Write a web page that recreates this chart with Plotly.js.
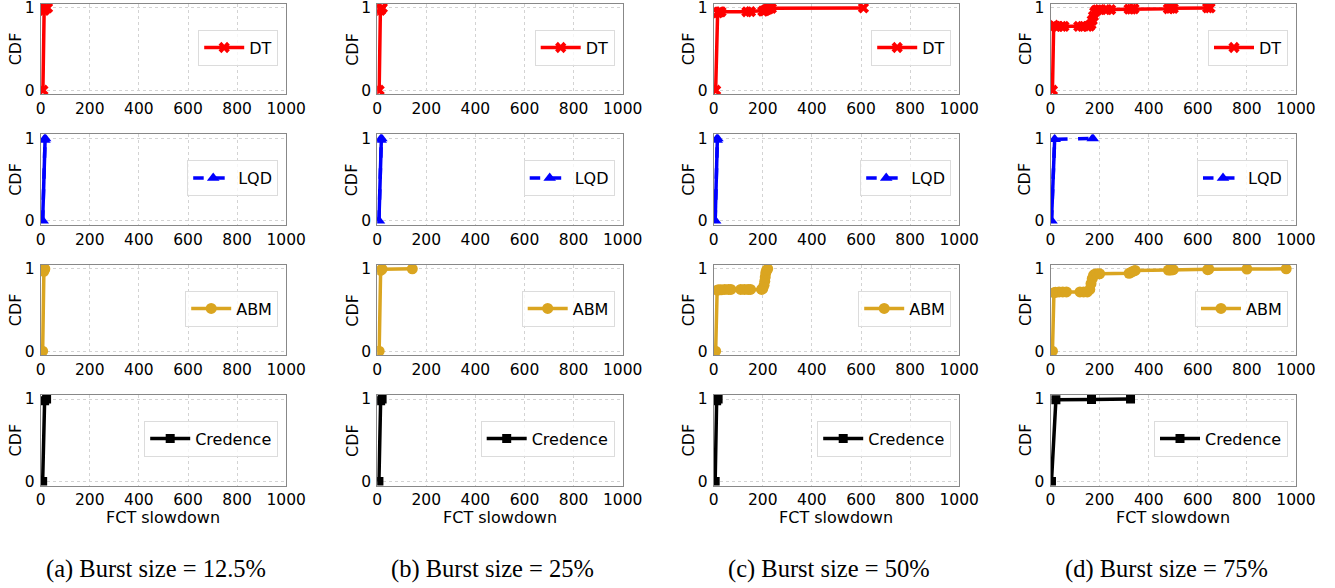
<!DOCTYPE html>
<html>
<head>
<meta charset="utf-8">
<script src="https://cdn.plot.ly/plotly-3.0.1.min.js"></script>
<style>html,body{margin:0;padding:0;background:#fff;}#chart{width:1335px;height:588px;}</style>
</head>
<body>
<div id="chart"></div>
<script>
// ---------- data ----------
const captions = ['(a) Burst size = 12.5%', '(b) Burst size = 25%', '(c) Burst size = 50%', '(d) Burst size = 75%'];
const schemes = ['DT', 'LQD', 'ABM', 'Credence'];
const xTicks = [0, 200, 400, 600, 800, 1000];
const yTicks = [0, 1];
const xLabel = 'FCT slowdown';
const yLabel = 'CDF';

// DT
const dtX_a = [9, 14, 18, 22, 28];
const dtY_a = [0, 0.97, 0.99, 1.0, 1.0];
const dtX_b = [8, 13, 17, 21];
const dtY_b = [0, 0.97, 0.99, 1.0];
const dtX_c = [8, 16, 20, 25, 30, 135, 150, 200, 205, 210, 215, 220, 225, 235, 610];
const dtY_c = [0, 0.94, 0.95, 0.952, 0.953, 0.953, 0.955, 0.96, 0.965, 0.97, 0.98, 0.985, 0.99, 0.995, 1.0];
const dtX_d = [8, 13, 20, 30, 45, 55, 115, 130, 150, 160, 165, 170, 175, 180, 185, 190, 200, 230, 245, 320, 330, 340, 480, 490, 500, 640, 650];
const dtY_d = [0, 0.79, 0.775, 0.775, 0.775, 0.775, 0.775, 0.775, 0.775, 0.78, 0.8, 0.85, 0.9, 0.95, 0.97, 0.975, 0.98, 0.98, 0.98, 0.985, 0.985, 0.99, 0.99, 0.995, 0.995, 1.0, 1.0];

// LQD
const lqdX_a = [8, 15, 18];
const lqdY_a = [0, 0.98, 1.0];
const lqdX_b = [7, 14, 17];
const lqdY_b = [0, 0.98, 1.0];
const lqdX_c = [6, 12, 15];
const lqdY_c = [0, 0.98, 1.0];
const lqdX_d = [4, 17, 172];
const lqdY_d = [0, 0.99, 1.0];

// ABM
const abmX_a = [8, 13, 17];
const abmY_a = [0, 0.97, 1.0];
const abmX_b = [8, 14, 20, 143];
const abmY_b = [0, 0.98, 0.995, 1.0];
const abmX_c = [8, 14, 20, 30, 45, 60, 70, 110, 125, 140, 150, 195, 200, 205, 208, 210, 212, 215, 220];
const abmY_c = [0, 0.74, 0.745, 0.745, 0.75, 0.75, 0.75, 0.75, 0.75, 0.75, 0.75, 0.75, 0.76, 0.8, 0.85, 0.9, 0.95, 0.98, 1.0];
const abmX_d = [8, 14, 20, 35, 50, 65, 120, 135, 150, 160, 165, 170, 175, 180, 190, 200, 320, 330, 340, 345, 480, 490, 500, 640, 645, 800, 960];
const abmY_d = [0, 0.71, 0.715, 0.72, 0.72, 0.72, 0.72, 0.72, 0.72, 0.75, 0.82, 0.88, 0.92, 0.935, 0.94, 0.94, 0.945, 0.96, 0.975, 0.98, 0.985, 0.985, 0.99, 0.99, 0.995, 0.997, 1.0];

// Credence
const crX_a = [8, 16, 24];
const crY_a = [0, 0.98, 1.0];
const crX_b = [7, 14, 20];
const crY_b = [0, 0.98, 1.0];
const crX_c = [6, 12, 18];
const crY_c = [0, 0.98, 1.0];
const crX_d = [4, 22, 167, 326];
const crY_d = [0, 0.99, 0.995, 1.0];

const seriesX = {DT: [dtX_a, dtX_b, dtX_c, dtX_d], LQD: [lqdX_a, lqdX_b, lqdX_c, lqdX_d], ABM: [abmX_a, abmX_b, abmX_c, abmX_d], Credence: [crX_a, crX_b, crX_c, crX_d]};
const seriesY = {DT: [dtY_a, dtY_b, dtY_c, dtY_d], LQD: [lqdY_a, lqdY_b, lqdY_c, lqdY_d], ABM: [abmY_a, abmY_b, abmY_c, abmY_d], Credence: [crY_a, crY_b, crY_c, crY_d]};

// ---------- styles ----------
const styles = {
  DT: {color: '#ff0000', symbol: 'x', size: 10, dash: 'solid'},
  LQD: {color: '#0000ff', symbol: 'triangle-up', size: 11, dash: 'dash'},
  ABM: {color: '#DAA520', symbol: 'circle', size: 11, dash: 'solid'},
  Credence: {color: '#000000', symbol: 'square', size: 9, dash: 'solid'}
};

const W = 1335, H = 588;
const colLeft = [40.7, 377.2, 713.7, 1050.5];
const colW = 245.5;
const rowTop = [3.8, 134.3, 264.7, 394.9];
const rowH = 90.6;
const font = 'DejaVu Sans, Verdana, sans-serif';

const traces = [];
const layout = {
  width: W, height: H,
  margin: {l: 0, r: 0, t: 0, b: 0},
  paper_bgcolor: '#ffffff', plot_bgcolor: '#ffffff',
  font: {family: font, size: 15, color: '#000'},
  annotations: []
};

let idx = 0;
schemes.forEach((s, r) => {
  captions.forEach((cap, c) => {
    idx++;
    const sfx = idx === 1 ? '' : String(idx);
    const st = styles[s];
    const xs = seriesX[s][c], ys = seriesY[s][c];
    if (st.dash !== 'solid') {
      // the steep rising part looks solid because the points are dense
      const k = ys.findIndex(v => v >= 0.99);
      traces.push({
        type: 'scatter', mode: 'lines', showlegend: false, hoverinfo: 'skip',
        x: xs.slice(0, k + 1), y: ys.slice(0, k + 1),
        xaxis: 'x' + sfx, yaxis: 'y' + sfx,
        line: {color: st.color, width: 3.5}
      });
    }
    traces.push({
      type: 'scatter', mode: 'lines+markers', name: s,
      x: xs, y: ys,
      xaxis: 'x' + sfx, yaxis: 'y' + sfx,
      legend: 'legend' + sfx,
      line: {color: st.color, width: 3.5, dash: st.dash},
      marker: {color: st.color, symbol: st.symbol, size: st.size, line: {width: 0}},
      showlegend: true
    });
    const x0 = colLeft[c] / W, x1 = (colLeft[c] + colW) / W;
    const y1 = 1 - rowTop[r] / H, y0 = 1 - (rowTop[r] + rowH) / H;
    layout['xaxis' + sfx] = {
      domain: [x0, x1], anchor: 'y' + sfx, range: [0, 1000],
      tickvals: xTicks, ticktext: xTicks.map(String),
      showgrid: true, gridcolor: '#d3d3d3', griddash: 'dot', gridwidth: 1,
      zeroline: false, showline: true, linecolor: '#888', linewidth: 1, mirror: true,
      ticks: '', ticklabelstandoff: 0, ticklabeloverflow: 'allow',
      tickfont: {family: font, size: 15.5, color: '#000'}
    };
    layout['yaxis' + sfx] = {
      domain: [y0, y1], anchor: 'x' + sfx, range: [-0.05, 1.05],
      tickvals: yTicks, ticktext: yTicks.map(String),
      showgrid: true, gridcolor: '#d3d3d3', griddash: 'dot', gridwidth: 1,
      zeroline: false, showline: true, linecolor: '#888', linewidth: 1, mirror: true,
      ticks: '', ticklabelstandoff: 2, ticklabeloverflow: 'allow',
      tickfont: {family: font, size: 15.5, color: '#000'}
    };
    layout['legend' + sfx] = {
      x: (colLeft[c] + colW - 8) / W, xanchor: 'right', xref: 'paper',
      y: 1 - (rowTop[r] + rowH / 2 - 1.5) / H, yanchor: 'middle', yref: 'paper',
      bgcolor: 'rgba(255,255,255,0.8)', bordercolor: '#dcdcdc', borderwidth: 1,
      font: {family: font, size: 16, color: '#000'},
      itemwidth: 40
    };
    // y-axis title of each panel
    layout.annotations.push({
      text: yLabel, xref: 'paper', yref: 'paper', textangle: -90,
      x: (colLeft[c] - 25.5) / W, y: 1 - (rowTop[r] + rowH / 2) / H,
      xanchor: 'center', yanchor: 'middle', showarrow: false,
      font: {family: font, size: 16, color: '#000'}
    });
    if (r === 3) {
      layout.annotations.push({
        text: xLabel, xref: 'paper', yref: 'paper',
        x: (colLeft[c] + colW / 2) / W, y: 1 - 517 / H,
        xanchor: 'center', yanchor: 'middle', showarrow: false,
        font: {family: font, size: 16, color: '#000'}
      });
    }
    if (r === 0) {
      layout.annotations.push({
        text: cap, xref: 'paper', yref: 'paper',
        x: (colLeft[c] + colW / 2 - 7) / W, y: 1 - 569 / H,
        xanchor: 'center', yanchor: 'middle', showarrow: false,
        font: {family: 'Liberation Serif, Times New Roman, serif', size: 24.5, color: '#000'}
      });
    }
  });
});

Plotly.newPlot('chart', traces, layout, {staticPlot: true, displayModeBar: false});
</script>
</body>
</html>
